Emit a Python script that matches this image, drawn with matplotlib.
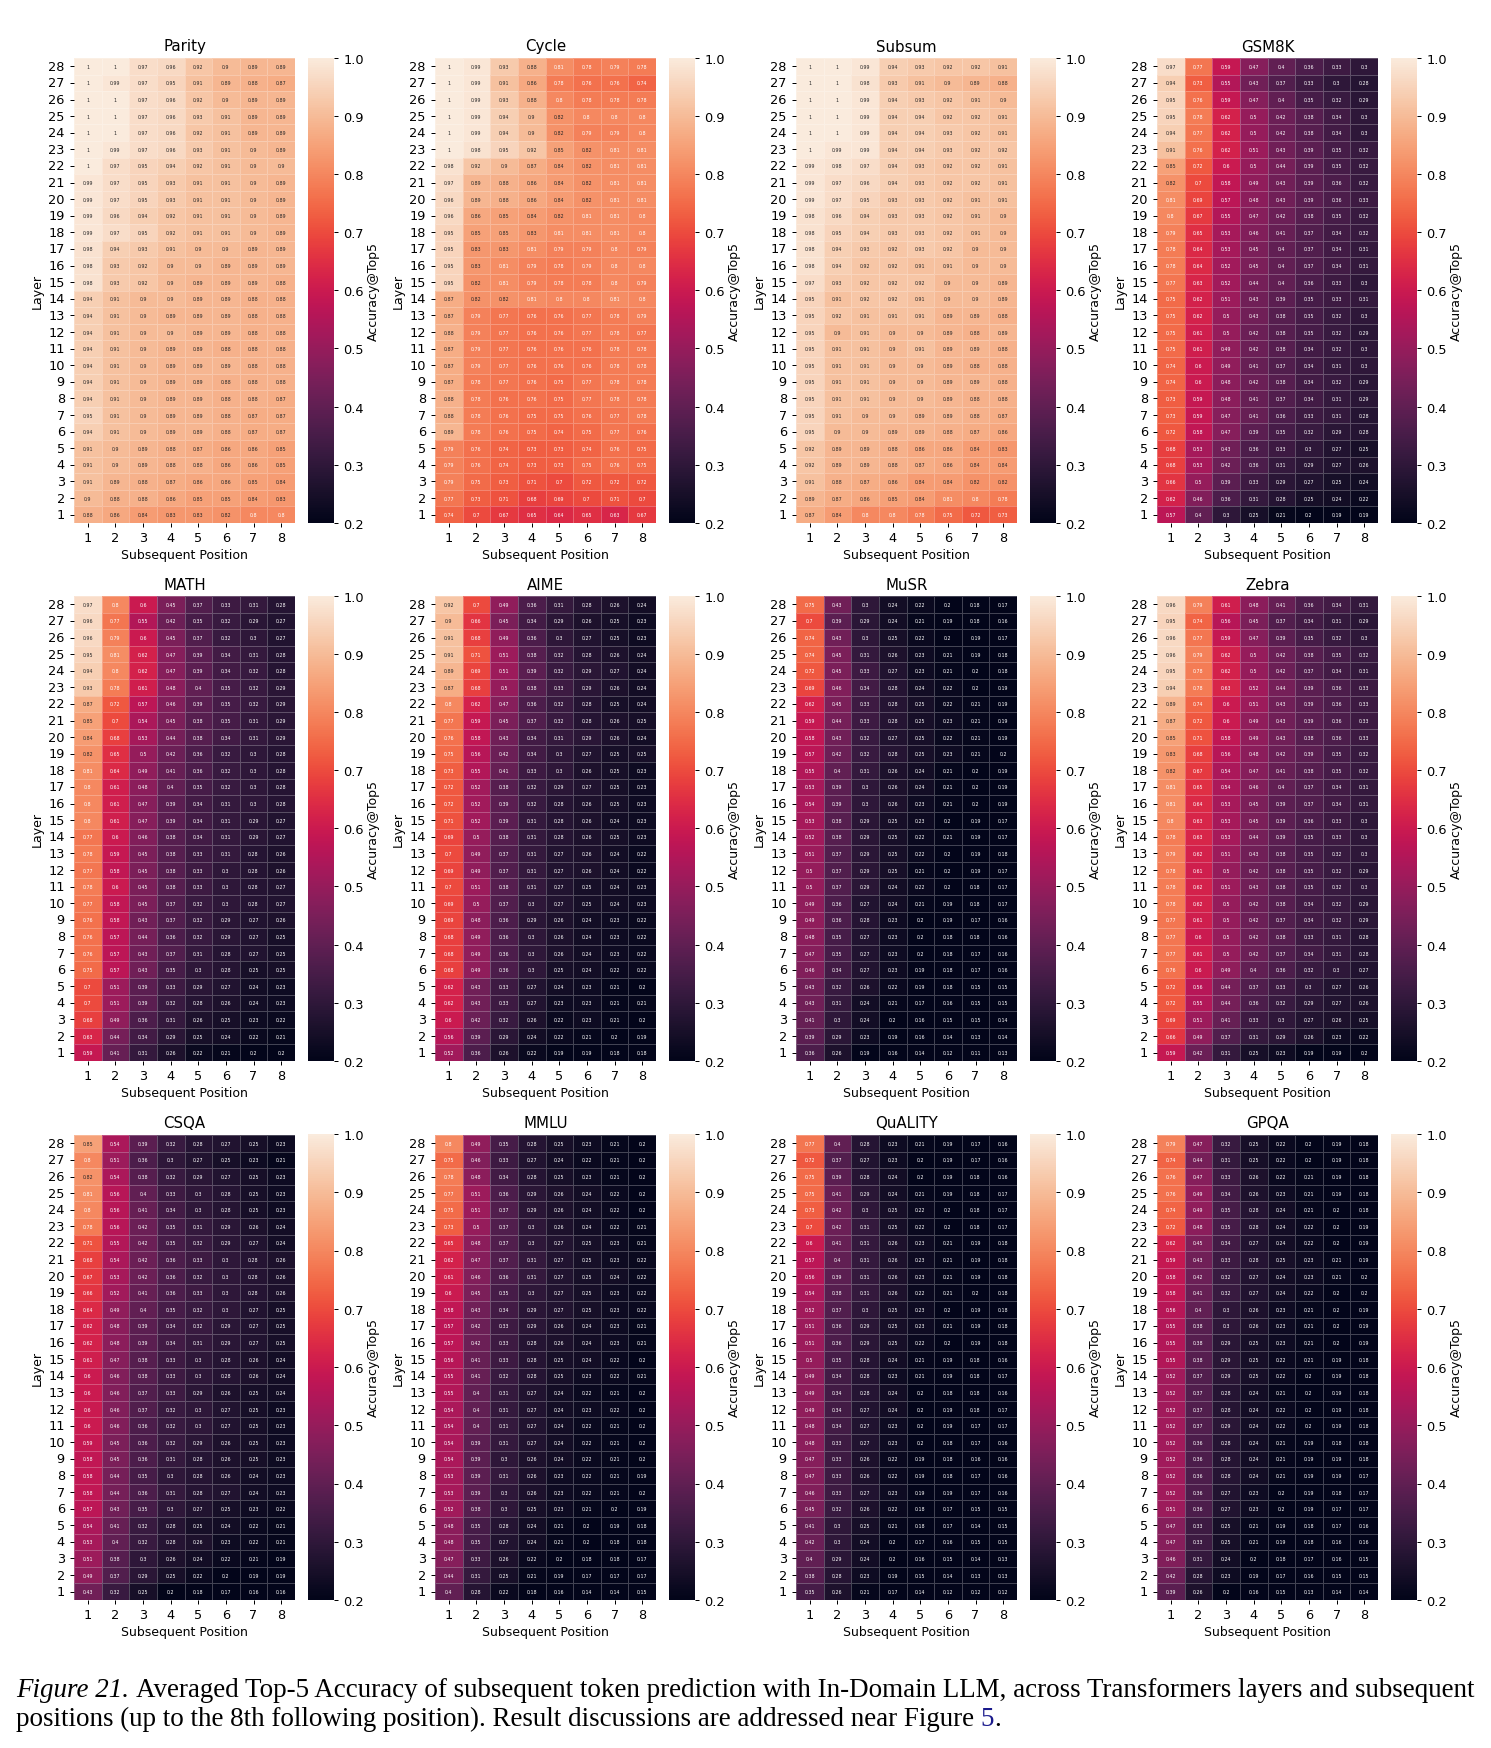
import matplotlib
matplotlib.use('Agg')
import matplotlib.pyplot as plt
import numpy as np
import seaborn as sns

layers = list(range(28, 0, -1))
positions = list(range(1, 9))

# rows run from layer 28 down to layer 1
parity = [
    [1, 1, .97, .96, .92, .9, .89, .89],
    [1, .99, .97, .95, .91, .89, .88, .87],
    [1, 1, .97, .96, .92, .9, .89, .89],
    [1, 1, .97, .96, .93, .91, .89, .89],
    [1, 1, .97, .96, .92, .91, .89, .89],
    [1, .99, .97, .96, .93, .91, .9, .89],
    [1, .97, .95, .94, .92, .91, .9, .9],
    [.99, .97, .95, .93, .91, .91, .9, .89],
    [.99, .97, .95, .93, .91, .91, .9, .89],
    [.99, .96, .94, .92, .91, .91, .9, .89],
    [.99, .97, .95, .92, .91, .91, .9, .89],
    [.98, .94, .93, .91, .9, .9, .89, .89],
    [.98, .93, .92, .9, .9, .89, .89, .89],
    [.98, .93, .92, .9, .89, .89, .89, .88],
    [.94, .91, .9, .9, .89, .89, .88, .88],
    [.94, .91, .9, .89, .89, .89, .88, .88],
    [.94, .91, .9, .9, .89, .89, .88, .88],
    [.94, .91, .9, .89, .89, .88, .88, .88],
    [.94, .91, .9, .89, .89, .89, .88, .88],
    [.94, .91, .9, .89, .89, .88, .88, .88],
    [.94, .91, .9, .89, .89, .88, .88, .87],
    [.95, .91, .9, .89, .89, .88, .87, .87],
    [.94, .91, .9, .89, .89, .88, .87, .87],
    [.91, .9, .89, .88, .87, .86, .86, .85],
    [.91, .9, .89, .88, .88, .86, .86, .85],
    [.91, .89, .88, .87, .86, .86, .85, .84],
    [.9, .88, .88, .86, .85, .85, .84, .83],
    [.88, .86, .84, .83, .83, .82, .8, .8],
]
cycle = [
    [1, .99, .93, .88, .81, .78, .79, .78],
    [1, .99, .91, .86, .78, .76, .76, .74],
    [1, .99, .93, .88, .8, .78, .78, .78],
    [1, .99, .94, .9, .82, .8, .8, .8],
    [1, .99, .94, .9, .82, .79, .79, .8],
    [1, .98, .95, .92, .85, .82, .81, .81],
    [.98, .92, .9, .87, .84, .82, .81, .81],
    [.97, .89, .88, .86, .84, .82, .81, .81],
    [.96, .89, .88, .86, .84, .82, .81, .81],
    [.96, .86, .85, .84, .82, .81, .81, .8],
    [.95, .85, .85, .83, .81, .81, .81, .8],
    [.95, .83, .83, .81, .79, .79, .8, .79],
    [.95, .83, .81, .79, .78, .79, .8, .8],
    [.95, .82, .81, .79, .78, .78, .8, .79],
    [.87, .82, .82, .81, .8, .8, .81, .8],
    [.87, .79, .77, .76, .76, .77, .78, .79],
    [.88, .79, .77, .76, .76, .77, .78, .77],
    [.87, .79, .77, .76, .76, .76, .78, .78],
    [.87, .79, .77, .76, .76, .76, .78, .78],
    [.87, .78, .77, .76, .75, .77, .78, .78],
    [.88, .78, .76, .76, .75, .77, .78, .78],
    [.88, .78, .76, .75, .75, .76, .77, .78],
    [.89, .78, .76, .75, .74, .75, .77, .76],
    [.79, .76, .74, .73, .73, .74, .76, .75],
    [.79, .76, .74, .73, .73, .75, .76, .75],
    [.79, .75, .73, .71, .7, .72, .72, .72],
    [.77, .73, .71, .68, .69, .7, .71, .7],
    [.74, .7, .67, .65, .64, .65, .63, .67],
]
subsum = [
    [1, 1, .99, .94, .93, .92, .92, .91],
    [1, 1, .98, .93, .91, .9, .89, .88],
    [1, 1, .99, .94, .93, .92, .91, .9],
    [1, 1, .99, .94, .94, .92, .92, .91],
    [1, 1, .99, .94, .94, .93, .92, .91],
    [1, .99, .99, .94, .94, .93, .92, .92],
    [.99, .98, .97, .94, .93, .92, .92, .91],
    [.99, .97, .96, .94, .93, .92, .92, .91],
    [.99, .97, .95, .93, .93, .92, .91, .91],
    [.98, .96, .94, .93, .93, .92, .91, .9],
    [.98, .95, .94, .93, .93, .92, .91, .9],
    [.98, .94, .93, .92, .93, .92, .9, .9],
    [.98, .94, .92, .92, .91, .91, .9, .9],
    [.97, .93, .92, .92, .92, .9, .9, .89],
    [.95, .91, .92, .92, .91, .9, .9, .89],
    [.95, .92, .91, .91, .91, .89, .89, .88],
    [.95, .9, .91, .9, .9, .89, .88, .89],
    [.95, .91, .91, .9, .91, .89, .89, .88],
    [.95, .91, .91, .9, .9, .89, .88, .88],
    [.95, .91, .91, .9, .9, .89, .89, .88],
    [.95, .91, .91, .9, .9, .89, .88, .88],
    [.95, .91, .9, .9, .89, .89, .88, .87],
    [.95, .9, .9, .89, .89, .88, .87, .86],
    [.92, .89, .89, .88, .86, .86, .84, .83],
    [.92, .89, .89, .88, .87, .86, .84, .84],
    [.91, .88, .87, .86, .84, .84, .82, .82],
    [.89, .87, .86, .85, .84, .81, .8, .78],
    [.87, .84, .8, .8, .78, .75, .72, .73],
]
gsm8k = [
    [.97, .77, .59, .47, .4, .36, .33, .3],
    [.94, .73, .55, .43, .37, .33, .3, .28],
    [.95, .76, .59, .47, .4, .35, .32, .29],
    [.95, .78, .62, .5, .42, .38, .34, .3],
    [.94, .77, .62, .5, .42, .38, .34, .3],
    [.91, .76, .62, .51, .43, .39, .35, .32],
    [.85, .72, .6, .5, .44, .39, .35, .32],
    [.82, .7, .58, .49, .43, .39, .36, .32],
    [.81, .69, .57, .48, .43, .39, .36, .33],
    [.8, .67, .55, .47, .42, .38, .35, .32],
    [.79, .65, .53, .46, .41, .37, .34, .32],
    [.78, .64, .53, .45, .4, .37, .34, .31],
    [.78, .64, .52, .45, .4, .37, .34, .31],
    [.77, .63, .52, .44, .4, .36, .33, .3],
    [.75, .62, .51, .43, .39, .35, .33, .31],
    [.75, .62, .5, .43, .38, .35, .32, .3],
    [.75, .61, .5, .42, .38, .35, .32, .29],
    [.75, .61, .49, .42, .38, .34, .32, .3],
    [.74, .6, .49, .41, .37, .34, .31, .3],
    [.74, .6, .48, .42, .38, .34, .32, .29],
    [.73, .59, .48, .41, .37, .34, .31, .29],
    [.73, .59, .47, .41, .36, .33, .31, .28],
    [.72, .58, .47, .39, .35, .32, .29, .28],
    [.68, .53, .43, .36, .33, .3, .27, .25],
    [.68, .53, .42, .36, .31, .29, .27, .26],
    [.66, .5, .39, .33, .29, .27, .25, .24],
    [.62, .46, .36, .31, .28, .25, .24, .22],
    [.57, .4, .3, .25, .21, .2, .19, .19],
]
math_ = [
    [.97, .8, .6, .45, .37, .33, .31, .28],
    [.96, .77, .55, .42, .35, .32, .29, .27],
    [.96, .79, .6, .45, .37, .32, .3, .27],
    [.95, .81, .62, .47, .39, .34, .31, .28],
    [.94, .8, .62, .47, .39, .34, .32, .28],
    [.93, .78, .61, .48, .4, .35, .32, .29],
    [.87, .72, .57, .46, .39, .35, .32, .29],
    [.85, .7, .54, .45, .38, .35, .31, .29],
    [.84, .68, .53, .44, .38, .34, .31, .29],
    [.82, .65, .5, .42, .36, .32, .3, .28],
    [.81, .64, .49, .41, .36, .32, .3, .28],
    [.8, .61, .48, .4, .35, .32, .3, .28],
    [.8, .61, .47, .39, .34, .31, .3, .28],
    [.8, .61, .47, .39, .34, .31, .29, .27],
    [.77, .6, .46, .38, .34, .31, .29, .27],
    [.78, .59, .45, .38, .33, .31, .28, .26],
    [.77, .58, .45, .38, .33, .3, .28, .26],
    [.78, .6, .45, .38, .33, .3, .28, .27],
    [.77, .58, .45, .37, .32, .3, .28, .27],
    [.76, .58, .43, .37, .32, .29, .27, .26],
    [.76, .57, .44, .36, .32, .29, .27, .25],
    [.76, .57, .43, .37, .31, .28, .27, .25],
    [.75, .57, .43, .35, .3, .28, .25, .25],
    [.7, .51, .39, .33, .29, .27, .24, .23],
    [.7, .51, .39, .32, .28, .26, .24, .23],
    [.68, .49, .36, .31, .26, .25, .23, .22],
    [.63, .44, .34, .29, .25, .24, .22, .21],
    [.59, .41, .31, .26, .22, .21, .2, .2],
]
aime = [
    [.92, .7, .49, .36, .31, .28, .26, .24],
    [.9, .66, .45, .34, .29, .26, .25, .23],
    [.91, .68, .49, .36, .3, .27, .25, .23],
    [.91, .71, .51, .38, .32, .28, .26, .24],
    [.89, .69, .51, .39, .32, .29, .27, .24],
    [.87, .68, .5, .38, .33, .29, .26, .24],
    [.8, .62, .47, .36, .32, .28, .25, .24],
    [.77, .59, .45, .37, .32, .28, .26, .25],
    [.76, .58, .43, .34, .31, .29, .26, .24],
    [.75, .56, .42, .34, .3, .27, .25, .25],
    [.73, .55, .41, .33, .3, .26, .25, .23],
    [.72, .52, .38, .32, .29, .27, .25, .23],
    [.72, .52, .39, .32, .28, .26, .25, .23],
    [.71, .52, .39, .31, .28, .26, .24, .23],
    [.69, .5, .38, .31, .28, .26, .25, .23],
    [.7, .49, .37, .31, .27, .26, .24, .22],
    [.69, .49, .37, .31, .27, .26, .24, .22],
    [.7, .51, .38, .31, .27, .25, .24, .23],
    [.69, .5, .37, .3, .27, .25, .24, .23],
    [.69, .48, .36, .29, .26, .24, .23, .22],
    [.68, .49, .36, .3, .26, .24, .23, .22],
    [.68, .49, .36, .3, .26, .24, .23, .22],
    [.68, .49, .36, .3, .25, .24, .22, .22],
    [.62, .43, .33, .27, .24, .23, .21, .2],
    [.62, .43, .33, .27, .23, .23, .21, .21],
    [.6, .42, .32, .26, .22, .23, .21, .2],
    [.56, .39, .29, .24, .22, .21, .2, .19],
    [.52, .36, .26, .22, .19, .19, .18, .18],
]
musr = [
    [.75, .43, .3, .24, .22, .2, .18, .17],
    [.7, .39, .29, .24, .21, .19, .18, .16],
    [.74, .43, .3, .25, .22, .2, .19, .17],
    [.74, .45, .31, .26, .23, .21, .19, .18],
    [.72, .45, .33, .27, .23, .21, .2, .18],
    [.69, .46, .34, .28, .24, .22, .2, .19],
    [.62, .45, .33, .28, .25, .22, .21, .19],
    [.59, .44, .33, .28, .25, .23, .21, .19],
    [.58, .43, .32, .27, .25, .22, .21, .19],
    [.57, .42, .32, .28, .25, .23, .21, .2],
    [.55, .4, .31, .26, .24, .21, .2, .19],
    [.53, .39, .3, .26, .24, .21, .2, .19],
    [.54, .39, .3, .26, .23, .21, .2, .19],
    [.53, .38, .29, .25, .23, .2, .19, .17],
    [.52, .38, .29, .25, .22, .21, .19, .17],
    [.51, .37, .29, .25, .22, .2, .19, .18],
    [.5, .37, .29, .25, .21, .2, .19, .17],
    [.5, .37, .29, .24, .22, .2, .18, .17],
    [.49, .36, .27, .24, .21, .19, .18, .17],
    [.49, .36, .28, .23, .2, .19, .17, .16],
    [.48, .35, .27, .23, .2, .18, .18, .16],
    [.47, .35, .27, .23, .2, .18, .17, .16],
    [.46, .34, .27, .23, .19, .18, .17, .16],
    [.43, .32, .26, .22, .19, .18, .15, .15],
    [.43, .31, .24, .21, .17, .16, .15, .15],
    [.41, .3, .24, .2, .16, .15, .15, .14],
    [.39, .29, .23, .19, .16, .14, .13, .14],
    [.36, .26, .19, .16, .14, .12, .11, .13],
]
zebra = [
    [.96, .79, .61, .48, .41, .36, .34, .31],
    [.95, .74, .56, .45, .37, .34, .31, .29],
    [.96, .77, .59, .47, .39, .35, .32, .3],
    [.96, .79, .62, .5, .42, .38, .35, .32],
    [.95, .78, .62, .5, .42, .37, .34, .31],
    [.94, .78, .63, .52, .44, .39, .36, .33],
    [.89, .74, .6, .51, .43, .39, .36, .33],
    [.87, .72, .6, .49, .43, .39, .36, .33],
    [.85, .71, .58, .49, .43, .38, .36, .33],
    [.83, .68, .56, .48, .42, .39, .35, .32],
    [.82, .67, .54, .47, .41, .38, .35, .32],
    [.81, .65, .54, .46, .4, .37, .34, .31],
    [.81, .64, .53, .45, .39, .37, .34, .31],
    [.8, .63, .53, .45, .39, .36, .33, .3],
    [.78, .63, .53, .44, .39, .35, .33, .3],
    [.79, .62, .51, .43, .38, .35, .32, .3],
    [.78, .61, .5, .42, .38, .35, .32, .29],
    [.78, .62, .51, .43, .38, .35, .32, .3],
    [.78, .62, .5, .42, .38, .34, .32, .29],
    [.77, .61, .5, .42, .37, .34, .32, .29],
    [.77, .6, .5, .42, .38, .33, .31, .28],
    [.77, .61, .5, .42, .37, .34, .31, .28],
    [.76, .6, .49, .4, .36, .32, .3, .27],
    [.72, .56, .44, .37, .33, .3, .27, .26],
    [.72, .55, .44, .36, .32, .29, .27, .26],
    [.69, .51, .41, .33, .3, .27, .26, .25],
    [.66, .49, .37, .31, .29, .26, .23, .22],
    [.59, .42, .31, .25, .23, .19, .19, .2],
]
csqa = [
    [.85, .54, .39, .32, .28, .27, .25, .23],
    [.8, .51, .36, .3, .27, .25, .23, .21],
    [.82, .54, .38, .32, .29, .27, .25, .23],
    [.81, .56, .4, .33, .3, .28, .25, .23],
    [.8, .56, .41, .34, .3, .28, .25, .23],
    [.78, .56, .42, .35, .31, .29, .26, .24],
    [.71, .55, .42, .35, .32, .29, .27, .24],
    [.68, .54, .42, .36, .33, .3, .28, .26],
    [.67, .53, .42, .36, .32, .3, .28, .26],
    [.66, .52, .41, .36, .33, .3, .28, .26],
    [.64, .49, .4, .35, .32, .3, .27, .25],
    [.62, .48, .39, .34, .32, .29, .27, .25],
    [.62, .48, .39, .34, .31, .29, .27, .25],
    [.61, .47, .38, .33, .3, .28, .26, .24],
    [.6, .46, .38, .33, .3, .28, .26, .24],
    [.6, .46, .37, .33, .29, .26, .25, .24],
    [.6, .46, .37, .32, .3, .27, .25, .23],
    [.6, .46, .36, .32, .3, .27, .25, .23],
    [.59, .45, .36, .32, .29, .26, .25, .23],
    [.58, .45, .36, .31, .28, .26, .25, .23],
    [.58, .44, .35, .3, .28, .26, .24, .23],
    [.58, .44, .36, .31, .28, .27, .24, .23],
    [.57, .43, .35, .3, .27, .25, .23, .22],
    [.54, .41, .32, .28, .25, .24, .22, .21],
    [.53, .4, .32, .28, .26, .23, .22, .21],
    [.51, .38, .3, .26, .24, .22, .21, .19],
    [.49, .37, .29, .25, .22, .2, .19, .19],
    [.43, .32, .25, .2, .18, .17, .16, .16],
]
mmlu = [
    [.8, .49, .35, .28, .25, .23, .21, .2],
    [.75, .46, .33, .27, .24, .22, .21, .2],
    [.78, .48, .34, .28, .25, .23, .21, .2],
    [.77, .51, .36, .29, .26, .24, .22, .2],
    [.75, .51, .37, .29, .26, .24, .22, .2],
    [.73, .5, .37, .3, .26, .24, .22, .21],
    [.65, .48, .37, .3, .27, .25, .23, .21],
    [.62, .47, .37, .31, .27, .25, .23, .22],
    [.61, .46, .36, .31, .27, .25, .24, .22],
    [.6, .45, .35, .3, .27, .25, .23, .22],
    [.58, .43, .34, .29, .27, .25, .23, .22],
    [.57, .42, .33, .29, .26, .24, .23, .21],
    [.57, .42, .33, .28, .26, .24, .23, .21],
    [.56, .41, .33, .28, .25, .24, .22, .2],
    [.55, .41, .32, .28, .25, .23, .22, .21],
    [.55, .4, .31, .27, .24, .22, .21, .2],
    [.54, .4, .31, .27, .24, .23, .22, .2],
    [.54, .4, .31, .27, .24, .22, .21, .2],
    [.54, .39, .31, .27, .24, .22, .21, .2],
    [.54, .39, .3, .26, .24, .22, .21, .2],
    [.53, .39, .31, .26, .23, .22, .21, .19],
    [.53, .39, .3, .26, .23, .22, .21, .2],
    [.52, .38, .3, .25, .23, .21, .2, .19],
    [.48, .35, .28, .24, .21, .2, .19, .18],
    [.48, .35, .27, .24, .21, .2, .18, .18],
    [.47, .33, .26, .22, .2, .18, .18, .17],
    [.44, .31, .25, .21, .19, .17, .17, .17],
    [.4, .28, .22, .18, .16, .14, .14, .15],
]
quality = [
    [.77, .4, .28, .23, .21, .19, .17, .16],
    [.72, .37, .27, .23, .2, .19, .17, .16],
    [.75, .39, .28, .24, .2, .19, .18, .16],
    [.75, .41, .29, .24, .21, .19, .18, .17],
    [.73, .42, .3, .25, .22, .2, .18, .17],
    [.7, .42, .31, .25, .22, .2, .18, .17],
    [.6, .41, .31, .26, .23, .21, .19, .18],
    [.57, .4, .31, .26, .23, .21, .19, .18],
    [.56, .39, .31, .26, .23, .21, .19, .18],
    [.54, .38, .31, .26, .22, .21, .2, .18],
    [.52, .37, .3, .25, .23, .2, .19, .18],
    [.51, .36, .29, .25, .23, .21, .19, .18],
    [.51, .36, .29, .25, .22, .2, .19, .18],
    [.5, .35, .28, .24, .21, .19, .18, .16],
    [.49, .34, .28, .23, .21, .19, .18, .17],
    [.49, .34, .28, .24, .2, .18, .18, .16],
    [.49, .34, .27, .24, .2, .19, .18, .17],
    [.48, .34, .27, .23, .2, .19, .17, .17],
    [.48, .33, .27, .23, .2, .18, .17, .16],
    [.47, .33, .26, .22, .19, .18, .16, .16],
    [.47, .33, .26, .22, .19, .18, .17, .16],
    [.46, .33, .27, .23, .19, .19, .17, .16],
    [.45, .32, .26, .22, .18, .17, .15, .15],
    [.41, .3, .25, .21, .18, .17, .14, .15],
    [.42, .3, .24, .2, .17, .16, .15, .15],
    [.4, .29, .24, .2, .16, .15, .14, .13],
    [.38, .28, .23, .19, .15, .14, .13, .13],
    [.35, .26, .21, .17, .14, .12, .12, .12],
]
gpqa = [
    [.79, .47, .32, .25, .22, .2, .19, .18],
    [.74, .44, .31, .25, .22, .2, .19, .18],
    [.76, .47, .33, .26, .22, .21, .19, .18],
    [.76, .49, .34, .26, .23, .21, .19, .18],
    [.74, .49, .35, .28, .24, .21, .2, .18],
    [.72, .48, .35, .28, .24, .22, .2, .19],
    [.62, .45, .34, .27, .24, .22, .2, .19],
    [.59, .43, .33, .28, .25, .23, .21, .19],
    [.58, .42, .32, .27, .24, .23, .21, .2],
    [.58, .41, .32, .27, .24, .22, .2, .2],
    [.56, .4, .3, .26, .23, .21, .2, .19],
    [.55, .38, .3, .26, .23, .21, .2, .19],
    [.55, .38, .29, .25, .23, .21, .2, .19],
    [.55, .38, .29, .25, .22, .21, .19, .18],
    [.52, .37, .29, .25, .22, .2, .19, .18],
    [.52, .37, .28, .24, .21, .2, .19, .18],
    [.52, .37, .28, .24, .22, .2, .19, .18],
    [.52, .37, .29, .24, .22, .2, .19, .18],
    [.52, .36, .28, .24, .21, .19, .18, .18],
    [.52, .36, .28, .24, .21, .19, .19, .18],
    [.52, .36, .28, .24, .21, .19, .19, .17],
    [.52, .36, .27, .23, .2, .19, .18, .17],
    [.51, .36, .27, .23, .2, .19, .17, .17],
    [.47, .33, .25, .21, .19, .18, .17, .16],
    [.47, .33, .25, .21, .19, .18, .16, .16],
    [.46, .31, .24, .2, .18, .17, .16, .15],
    [.42, .28, .23, .19, .17, .16, .15, .15],
    [.39, .26, .2, .16, .15, .13, .14, .14],
]

titles = ['Parity', 'Cycle', 'Subsum', 'GSM8K',
          'MATH', 'AIME', 'MuSR', 'Zebra',
          'CSQA', 'MMLU', 'QuALITY', 'GPQA']
tables = [parity, cycle, subsum, gsm8k,
          math_, aime, musr, zebra,
          csqa, mmlu, quality, gpqa]

W, H = 1491, 1749

plt.rcParams.update({
    'font.size': 9.3,
    'axes.titlesize': 10.8,
    'axes.labelsize': 9,
    'xtick.major.size': 3.15,
    'ytick.major.size': 3.15,
    'xtick.major.width': 0.72,
    'ytick.major.width': 0.72,
    'xtick.major.pad': 2.8,
    'axes.titlepad': 5.4,
})

fig = plt.figure(figsize=(W / 100, H / 100), dpi=100, facecolor='white')

# pixel edges of the heatmaps, measured from the top left of the page
lefts = [74, 435, 796, 1157]
tops = [59, 597, 1136]
bar_tops = [58.5, 596.5, 1135]
map_w, map_h = 221, 465
bar_gap, bar_w = 13, 26


def px_box(x, y, w, h):
    return [x / W, 1 - (y + h) / H, w / W, h / H]


for i, (name, table) in enumerate(zip(titles, tables)):
    x0 = lefts[i % 4]
    y0 = tops[i // 4]
    bar_y = bar_tops[i // 4]
    ax = fig.add_axes(px_box(x0, y0, map_w, map_h))
    cax = fig.add_axes(px_box(x0 + map_w + bar_gap, bar_y, bar_w, y0 + map_h - bar_y))
    sns.heatmap(np.array(table), ax=ax, cbar_ax=cax, vmin=0.2, vmax=1.0,
                annot=True, annot_kws={'size': 3.4}, linewidths=0.5,
                linecolor=(1, 1, 1, 0.25),
                xticklabels=positions, yticklabels=layers,
                cbar_kws={'label': 'Accuracy@Top5'})
    ax.set_title(name)
    ax.set_xlabel('Subsequent Position', labelpad=3)
    ax.set_ylabel('Layer', labelpad=3.6)
    ax.tick_params(axis='y', labelrotation=0)
    ax.tick_params(axis='x', labelrotation=0)
    cax.tick_params(labelsize=9.3)
    cax.yaxis.labelpad = 2.5

# caption under the grid, pieced together so the italic lead-in and the
# blue cross-reference keep their own styling
serif = ['Liberation Serif', 'DejaVu Serif']
caption_size = 19.44
renderer = fig.canvas.get_renderer()


def put_run(x, y, text, **kw):
    t = fig.text(x / W, 1 - y / H, text, family=serif, fontsize=caption_size,
                 va='baseline', ha='left', **kw)
    return x + t.get_window_extent(renderer).width


x = put_run(16, 1697, 'Figure 21.', style='italic')
x = x + 7
put_run(x, 1697, 'Averaged Top-5 Accuracy of subsequent token prediction with '
                 'In-Domain LLM, across Transformers layers and subsequent')
x = put_run(16, 1726, 'positions (up to the 8th following position). Result '
                      'discussions are addressed near Figure ')
x = put_run(x, 1726, '5', color='#1a1a8c')
put_run(x, 1726, '.')

fig.savefig('out.png', dpi=100)
